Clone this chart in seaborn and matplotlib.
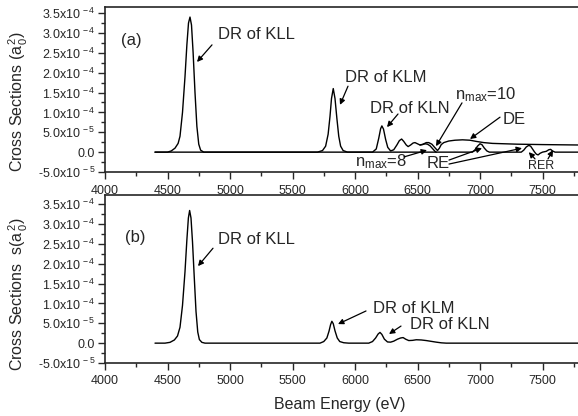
import numpy as np
import pandas as pd
import matplotlib
matplotlib.use("Agg")
import matplotlib.pyplot as plt
import seaborn as sns
from matplotlib.ticker import MultipleLocator, AutoMinorLocator, FuncFormatter

# ---------------- data (cross sections in units of 1e-5 a0^2) ----------------
# panel (a): main curve (DR peaks, n_max=10 branch, DE continuation)
energy_a = [4400, 4500, 4530, 4560, 4585, 4600, 4620, 4640, 4655, 4668, 4680, 4692,
            4705, 4720, 4735, 4750, 4765, 4790, 5700, 5740, 5765, 5785, 5800, 5812,
            5826, 5840, 5855, 5870, 5885, 5905, 5940, 6140, 6170, 6190, 6205, 6215,
            6228, 6245, 6262, 6285, 6310, 6335, 6355, 6373, 6390, 6410, 6425, 6445,
            6465, 6480, 6500, 6520, 6545, 6570, 6590, 6615, 6640, 6660, 6675, 6690,
            6710, 6750, 6800, 6860, 6920, 6970, 7030, 7100, 7300, 7500, 7784]
sigma_a = [0, 0, 0.3, 1.0, 2.2, 4.0, 10, 19, 27, 32.5, 34, 32,
           25, 15, 6.5, 2.0, 0.5, 0, 0, 0.4, 1.5, 4.5, 9, 13.5,
           16, 13.5, 8.5, 4, 1.5, 0.4, 0, 0, 0.8, 3.5, 5.9, 6.6,
           5.8, 3.2, 1.2, 0.3, 0.6, 1.8, 2.9, 3.3, 2.7, 1.8, 1.4, 1.8,
           2.3, 2.4, 2.1, 1.8, 2.0, 2.4, 2.4, 2.0, 1.1, 0.4, 1.0, 1.9,
           2.4, 2.8, 3.0, 3.1, 3.0, 2.7, 2.4, 2.2, 2.0, 1.9, 1.8]

# panel (a): n_max=8 branch
energy_a8 = [6520, 6540, 6560, 6580, 6600, 6620, 6640, 6650]
sigma_a8 = [1.8, 1.9, 2.1, 2.0, 1.6, 0.9, 0.2, 0]

# panel (a): RE / RER curve (baseline)
energy_re = [4400, 6940, 6960, 6980, 7000, 7015, 7035, 7055, 7075, 7330, 7350, 7370,
             7390, 7405, 7420, 7435, 7450, 7465, 7480, 7500, 7530, 7550, 7565, 7580,
             7600, 7784]
sigma_re = [0, 0, 0.6, 1.5, 2.1, 1.9, 1.0, 0.3, 0, 0, 0.5, 1.3,
            1.7, 1.5, 0.8, 0.1, -0.5, -0.7, -0.3, 0, 0.2, 0.6, 0.7, 0.3,
            0, 0]

# panel (b)
energy_b = [4400, 4480, 4520, 4555, 4580, 4600, 4620, 4640, 4655, 4667, 4677, 4688,
            4700, 4715, 4728, 4742, 4755, 4775, 4800, 5720, 5750, 5775, 5792, 5805,
            5815, 5826, 5840, 5858, 5878, 5910, 5950, 6110, 6140, 6165, 6185, 6200,
            6215, 6235, 6260, 6285, 6310, 6340, 6365, 6385, 6405, 6430, 6460, 6490,
            6530, 6570, 6610, 6650, 6690, 6730, 7784]
sigma_b = [0, 0, 0.2, 0.8, 1.8, 4, 9.5, 18, 26, 31.5, 33.4, 31.5,
           25.5, 16, 8, 2.8, 0.9, 0.2, 0, 0, 0.4, 1.3, 3.0, 4.7,
           5.5, 4.9, 3.1, 1.3, 0.4, 0.1, 0, 0, 0.4, 1.3, 2.3, 2.7,
           2.2, 1.0, 0.3, 0.25, 0.5, 1.0, 1.3, 1.4, 1.0, 0.65, 0.7, 0.85,
           0.8, 0.65, 0.45, 0.25, 0.08, 0, 0]

x_ticks = [4000, 4500, 5000, 5500, 6000, 6500, 7000, 7500]
UNIT = 1e-5

# ---------------- style ----------------
sns.set_style("ticks")
plt.rcParams["font.family"] = ["Liberation Sans", "DejaVu Sans"]
plt.rcParams["mathtext.fontset"] = "custom"
plt.rcParams["mathtext.rm"] = "Liberation Sans"
plt.rcParams["mathtext.it"] = "Liberation Sans"
plt.rcParams["mathtext.bf"] = "Liberation Sans:bold"

fig = plt.figure(figsize=(5.78, 4.16), dpi=100)
ax1 = fig.add_axes([105/578, 1-172/416, 473/578, 165.5/416])
ax2 = fig.add_axes([105/578, 1-363/416, 473/578, 168/416])

LW = 1.0

def draw(ax, e, s):
    df = pd.DataFrame({"E": e, "S": np.asarray(s, float) * UNIT})
    sns.lineplot(data=df, x="E", y="S", ax=ax, color="black", lw=LW,
                 sort=False, estimator=None)

draw(ax1, energy_re, sigma_re)
draw(ax1, energy_a, sigma_a)
draw(ax1, energy_a8, sigma_a8)
draw(ax2, energy_b, sigma_b)

def yfmt(v, pos):
    if abs(v) < 1e-12:
        return "0.0"
    ex = int(np.floor(np.log10(abs(v)) + 1e-9))
    m = v / 10**ex
    return f"{m:.1f}x10$^{{\\,{ex}}}$"

for ax, top in ((ax1, 3.666e-4), (ax2, 3.73e-4)):
    ax.set_xlim(4000, 7784)
    ax.set_ylim(-5e-5, top)
    ax.set_xticks(x_ticks)
    ax.xaxis.set_minor_locator(MultipleLocator(250))
    ax.yaxis.set_major_locator(MultipleLocator(5e-5))
    ax.yaxis.set_minor_locator(AutoMinorLocator(2))
    ax.yaxis.set_major_formatter(FuncFormatter(yfmt))
    ax.set_ylim(-5e-5, top)
    ax.tick_params(which="major", direction="out", length=5, width=1, labelsize=9, pad=2)
    ax.tick_params(which="minor", direction="out", length=3, width=1)
    ax.tick_params(axis="x", which="major", pad=4)
    for sp in ("left", "bottom", "top"):
        ax.spines[sp].set_visible(True)
        ax.spines[sp].set_linewidth(1.2)
    ax.spines["right"].set_visible(False)
    ax.set_xlabel("")
    ax.set_ylabel("")

fig.text(18/578, 1-101/416, r"Cross Sections (a$_{\,0}^{\,2}$)", rotation=90,
         ha="center", va="center", fontsize=11.5)
fig.text(18/578, 1-294/416, r"Cross Sections  s(a$_{\,0}^{\,2}$)", rotation=90,
         ha="center", va="center", fontsize=11.5)
fig.text(340/578, 1-405/416, "Beam Energy (eV)", ha="center", va="center", fontsize=11.5)

AP = dict(arrowstyle="-|>", color="black", lw=0.9, mutation_scale=8, shrinkA=0, shrinkB=0)
FS = 12

def ann(ax, txt, xy_text, xy_tail=None, xy_head=None, fs=FS, ha="left"):
    ax.text(xy_text[0], xy_text[1], txt, fontsize=fs, ha=ha, va="center")
    if xy_tail is not None:
        ax.annotate("", xy=xy_head, xytext=xy_tail, arrowprops=AP)

# panel (a)
ann(ax1, "(a)", (4208, 2.80e-4), fs=12, ha="center")
ann(ax1, "DR of KLL", (4904, 2.95e-4), (4856, 2.70e-4), (4736, 2.27e-4))
ann(ax1, "DR of KLM", (5920, 1.89e-4), (5944, 1.66e-4), (5880, 1.19e-4))
ann(ax1, "DR of KLN", (6120, 1.11e-4), (6344, 0.96e-4), (6256, 0.63e-4))
ann(ax1, r"n$_{\rm max}$=10", (6800, 1.44e-4), (6856, 1.24e-4), (6648, 0.15e-4))
ann(ax1, "DE", (7184, 0.81e-4), (7160, 0.88e-4), (6920, 0.33e-4))
ann(ax1, r"n$_{\rm max}$=8", (6000, -0.25e-4), (6392, -0.12e-4), (6576, 0.05e-4))
ann(ax1, "RE", (6576, -0.28e-4), (6752, -0.20e-4), (7016, 0.10e-4))
ax1.annotate("", xy=(7336, 0.10e-4), xytext=(6752, -0.30e-4), arrowprops=AP)
ann(ax1, "RER", (7384, -0.34e-4), (7440, -0.17e-4), (7390, 0.0), fs=9)
ax1.annotate("", xy=(7584, 0.05e-4), xytext=(7544, -0.17e-4), arrowprops=AP)

# panel (b)
ann(ax2, "(b)", (4240, 2.65e-4), fs=12, ha="center")
ann(ax2, "DR of KLL", (4904, 2.60e-4), (4864, 2.39e-4), (4744, 1.94e-4))
ann(ax2, "DR of KLM", (6144, 0.86e-4), (6088, 0.81e-4), (5864, 0.48e-4))
ann(ax2, "DR of KLN", (6440, 0.48e-4), (6368, 0.43e-4), (6272, 0.23e-4))

fig.savefig("out.png", dpi=100)
